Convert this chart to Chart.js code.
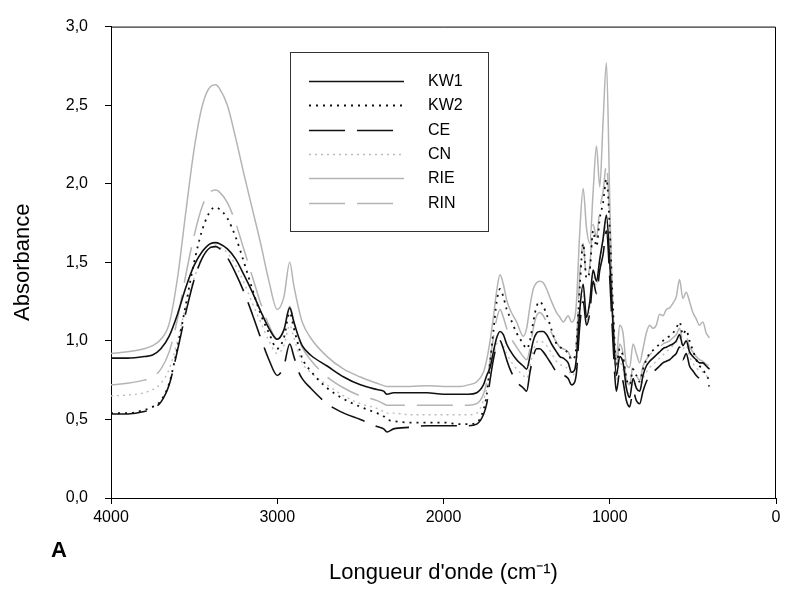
<!DOCTYPE html>
<html>
<head>
<meta charset="utf-8">
<script src="https://cdn.jsdelivr.net/npm/chart.js@4.4.0/dist/chart.umd.min.js"></script>
<style>
  html, body { margin: 0; padding: 0; background: #fff; }
</style>
</head>
<body>
<canvas id="spectra" width="785" height="592"></canvas>
<script>
// wavenumbers (cm-1), shared by all spectra
const wavenumbers = [
    4000, 3900, 3800, 3750, 3700, 3650, 3600, 3550, 3500, 3450, 3400, 3370, 3350, 3300, 3250, 3200, 3150, 3100, 3050, 3000,
    2960, 2925, 2900, 2870, 2850, 2800, 2700, 2600, 2500, 2400, 2360, 2340, 2300, 2200, 2100, 2000, 1900, 1850, 1800,
    1760, 1740, 1720, 1700, 1680, 1660, 1640, 1620, 1600, 1560, 1520, 1500, 1480, 1460, 1440, 1420, 1400, 1380, 1350, 1320, 1300, 1280, 1250, 1230, 1210, 1200,
    1180, 1160, 1140, 1120, 1100, 1080, 1060, 1040, 1020, 1000, 980, 960, 940, 920, 900, 880, 860, 840, 820, 800,
    780, 760, 740, 720, 700, 680, 660, 640, 620, 600, 580, 560, 540, 520, 500, 480, 460, 440, 420, 400
];

const kw1 = [
    0.89, 0.89, 0.90, 0.91, 0.95, 1.03, 1.17, 1.34, 1.48, 1.57, 1.62, 1.625, 1.62, 1.585, 1.52, 1.42, 1.31, 1.19, 1.08, 1.01,
    1.07, 1.21, 1.12, 1.02, 0.97, 0.91, 0.84, 0.77, 0.72, 0.69, 0.68, 0.66, 0.67, 0.67, 0.67, 0.66, 0.66, 0.66, 0.67,
    0.72, 0.78, 0.83, 0.93, 1.02, 1.06, 1.04, 0.98, 0.94, 0.88, 0.84, 0.82, 0.90, 1.00, 1.05, 1.06, 1.06, 1.04, 0.98, 0.93, 0.90, 0.89, 0.86, 0.80, 0.82, 0.90,
    1.20, 1.36, 1.15, 1.25, 1.45, 1.38, 1.52, 1.65, 1.80, 1.50, 1.10, 0.78, 0.90, 0.86, 0.70, 0.64, 0.76, 0.70, 0.68, 0.78,
    0.84, 0.87, 0.89, 0.91, 0.93, 0.95, 0.96, 0.97, 0.98, 1.00, 1.04, 0.97, 1.00, 0.93, 0.90, 0.88, 0.86, 0.86, 0.84, 0.82
];

const kw2 = [
    0.54, 0.54, 0.56, 0.58, 0.62, 0.73, 0.96, 1.23, 1.50, 1.71, 1.83, 1.85, 1.84, 1.78, 1.66, 1.50, 1.33, 1.17, 1.05, 0.95,
    1.02, 1.18, 1.08, 0.96, 0.89, 0.81, 0.70, 0.63, 0.58, 0.54, 0.52, 0.50, 0.49, 0.48, 0.48, 0.48, 0.47, 0.47, 0.48,
    0.56, 0.66, 0.86, 1.06, 1.25, 1.33, 1.28, 1.20, 1.15, 1.05, 0.98, 0.95, 1.00, 1.12, 1.22, 1.25, 1.22, 1.17, 1.07, 0.98, 0.96, 0.95, 0.92, 0.88, 0.90, 0.98,
    1.35, 1.62, 1.40, 1.45, 1.70, 1.60, 1.78, 1.88, 2.03, 1.72, 1.20, 0.85, 0.95, 0.90, 0.76, 0.72, 0.82, 0.78, 0.74, 0.82,
    0.88, 0.92, 0.94, 0.96, 0.98, 1.00, 1.02, 1.03, 1.05, 1.08, 1.12, 1.04, 1.07, 1.00, 0.94, 0.88, 0.84, 0.82, 0.78, 0.75
];

const ce = [
    0.535, 0.535, 0.55, 0.57, 0.61, 0.72, 0.94, 1.18, 1.39, 1.53, 1.595, 1.60, 1.59, 1.53, 1.43, 1.31, 1.17, 1.02, 0.88, 0.78,
    0.84, 0.98, 0.90, 0.80, 0.76, 0.70, 0.60, 0.54, 0.50, 0.455, 0.44, 0.42, 0.44, 0.45, 0.46, 0.46, 0.46, 0.46, 0.47,
    0.53, 0.60, 0.75, 0.88, 0.97, 1.00, 0.95, 0.88, 0.82, 0.74, 0.70, 0.68, 0.80, 0.90, 0.95, 0.95, 0.93, 0.90, 0.85, 0.80, 0.78, 0.78, 0.76, 0.72, 0.74, 0.80,
    1.10, 1.25, 1.10, 1.18, 1.38, 1.30, 1.45, 1.55, 1.70, 1.40, 0.98, 0.68, 0.80, 0.74, 0.62, 0.58, 0.68, 0.62, 0.60, 0.68,
    0.74, 0.78, 0.80, 0.82, 0.84, 0.86, 0.87, 0.88, 0.90, 0.92, 0.96, 0.88, 0.92, 0.84, 0.81, 0.78, 0.76, 0.75, 0.73, 0.71
];

const cn = [
    0.65, 0.655, 0.67, 0.69, 0.73, 0.82, 1.00, 1.22, 1.40, 1.53, 1.60, 1.61, 1.60, 1.56, 1.48, 1.37, 1.24, 1.12, 1.00, 0.92,
    0.97, 1.10, 1.02, 0.92, 0.86, 0.80, 0.72, 0.65, 0.60, 0.57, 0.55, 0.54, 0.54, 0.53, 0.53, 0.53, 0.53, 0.53, 0.54,
    0.62, 0.70, 0.80, 0.90, 0.98, 1.00, 0.97, 0.92, 0.88, 0.82, 0.78, 0.76, 0.84, 0.94, 0.99, 1.00, 0.99, 0.97, 0.92, 0.87, 0.85, 0.84, 0.82, 0.78, 0.80, 0.86,
    1.16, 1.32, 1.12, 1.22, 1.42, 1.35, 1.50, 1.62, 1.76, 1.48, 1.05, 0.75, 0.86, 0.82, 0.70, 0.66, 0.74, 0.70, 0.68, 0.76,
    0.80, 0.83, 0.85, 0.87, 0.89, 0.91, 0.93, 0.95, 0.97, 0.99, 1.02, 0.95, 0.97, 0.90, 0.86, 0.83, 0.81, 0.80, 0.78, 0.76
];

const rie = [
    0.92, 0.93, 0.95, 0.97, 1.01, 1.11, 1.40, 1.82, 2.22, 2.50, 2.62, 2.63, 2.61, 2.50, 2.29, 2.06, 1.84, 1.62, 1.38, 1.20,
    1.28, 1.50, 1.35, 1.20, 1.12, 1.02, 0.90, 0.82, 0.77, 0.73, 0.715, 0.71, 0.71, 0.71, 0.715, 0.71, 0.71, 0.72, 0.74,
    0.80, 0.88, 1.00, 1.15, 1.32, 1.42, 1.36, 1.26, 1.20, 1.12, 1.03, 1.08, 1.22, 1.33, 1.37, 1.38, 1.37, 1.33, 1.25, 1.18, 1.15, 1.12, 1.16, 1.12, 1.15, 1.25,
    1.70, 1.97, 1.72, 1.62, 1.95, 2.24, 1.98, 2.40, 2.77, 1.90, 1.05, 0.90, 1.10, 1.05, 0.85, 0.83, 0.98, 0.92, 0.86, 0.95,
    1.05, 1.10, 1.08, 1.10, 1.17, 1.16, 1.20, 1.21, 1.24, 1.28, 1.39, 1.27, 1.31, 1.25, 1.18, 1.14, 1.10, 1.12, 1.05, 1.02
];

const rin = [
    0.72, 0.73, 0.75, 0.77, 0.82, 0.93, 1.14, 1.42, 1.67, 1.86, 1.95, 1.96, 1.95, 1.88, 1.75, 1.58, 1.41, 1.24, 1.10, 1.01,
    1.07, 1.22, 1.12, 1.02, 0.96, 0.88, 0.77, 0.70, 0.65, 0.62, 0.60, 0.59, 0.59, 0.59, 0.59, 0.59, 0.59, 0.59, 0.60,
    0.66, 0.74, 0.88, 1.02, 1.14, 1.20, 1.15, 1.08, 1.03, 0.96, 0.90, 0.88, 0.95, 1.08, 1.16, 1.18, 1.16, 1.12, 1.05, 0.99, 0.96, 0.95, 0.93, 0.89, 0.92, 1.00,
    1.42, 1.62, 1.40, 1.48, 1.74, 1.66, 1.84, 1.95, 2.12, 1.76, 1.18, 0.84, 0.98, 0.92, 0.76, 0.72, 0.84, 0.78, 0.75, 0.84,
    0.88, 0.91, 0.93, 0.95, 0.96, 0.98, 0.99, 1.00, 1.02, 1.04, 1.08, 1.00, 1.03, 0.96, 0.93, 0.90, 0.88, 0.87, 0.85, 0.84
];

const seriesNames = ['KW1', 'KW2', 'CE', 'CN', 'RIE', 'RIN'];
const yTicks = [0, 0.5, 1.0, 1.5, 2.0, 2.5, 3.0];

const FONT = '"Liberation Sans", Arial, sans-serif';
const GREY = '#b4b4b4';

const toPoints = arr => wavenumbers.map((w, i) => ({ x: w, y: arr[i] }));

const styles = [
    { borderColor: '#111', borderWidth: 1.6, borderDash: [] },
    { borderColor: '#111', borderWidth: 1.8, borderDash: [2, 5] },
    { borderColor: '#111', borderWidth: 1.6, borderDash: [36, 12] },
    { borderColor: '#bcbcbc', borderWidth: 1.4, borderDash: [2, 4] },
    { borderColor: GREY, borderWidth: 1.5, borderDash: [] },
    { borderColor: GREY, borderWidth: 1.5, borderDash: [36, 12] }
];

const datasets = [kw1, kw2, ce, cn, rie, rin].map((arr, i) => Object.assign({
    label: seriesNames[i],
    data: toPoints(arr),
    pointRadius: 0,
    fill: false,
    cubicInterpolationMode: 'monotone'
}, styles[i]));

// framed legend box, like the original figure
const boxLegend = {
    id: 'boxLegend',
    afterDraw(chart) {
        const ctx = chart.ctx;
        ctx.save();
        ctx.fillStyle = '#fff';
        ctx.fillRect(290, 52, 198, 179);
        ctx.strokeStyle = '#333';
        ctx.lineWidth = 1;
        ctx.strokeRect(290.5, 52.5, 198, 179);
        chart.data.datasets.forEach((ds, i) => {
            const y = Math.round(81 + i * 24.3) + 0.5;
            ctx.strokeStyle = ds.borderColor;
            ctx.lineWidth = ds.borderWidth;
            ctx.setLineDash(ds.borderDash);
            ctx.beginPath();
            ctx.moveTo(309, y);
            ctx.lineTo(404, y);
            ctx.stroke();
            ctx.setLineDash([]);
            ctx.fillStyle = '#000';
            ctx.font = '16px ' + FONT;
            ctx.textBaseline = 'middle';
            ctx.fillText(ds.label, 428, y);
        });
        ctx.restore();
    }
};

// top/right frame lines and the panel letter
const frame = {
    id: 'frame',
    afterDatasetsDraw(chart) {
        const { ctx, chartArea: a } = chart;
        ctx.save();
        ctx.strokeStyle = '#000';
        ctx.lineWidth = 1;
        ctx.beginPath();
        ctx.moveTo(a.left, a.top + 0.5);
        ctx.lineTo(a.right - 0.5, a.top + 0.5);
        ctx.lineTo(a.right - 0.5, a.bottom);
        ctx.stroke();
        ctx.fillStyle = '#000';
        ctx.font = 'bold 22px ' + FONT;
        ctx.textBaseline = 'alphabetic';
        ctx.fillText('A', 51, 557);
        ctx.restore();
    }
};

new Chart(document.getElementById('spectra').getContext('2d'), {
    type: 'line',
    data: { datasets: datasets },
    plugins: [frame, boxLegend],
    options: {
        responsive: false,
        animation: false,
        layout: { padding: { top: 21, right: 9, left: 0, bottom: 0 } },
        plugins: {
            legend: { display: false },
            tooltip: { enabled: false }
        },
        scales: {
            x: {
                type: 'linear',
                min: 0,
                max: 4000,
                reverse: true,
                afterFit: s => { s.height = 94; },
                ticks: {
                    stepSize: 1000,
                    padding: 4,
                    color: '#000',
                    font: { family: FONT, size: 16 },
                    callback: v => String(v)
                },
                grid: { drawOnChartArea: false, drawTicks: true, tickLength: 6, color: '#000' },
                border: { color: '#000', width: 1 },
                title: {
                    display: true,
                    text: "Longueur d'onde (cm⁻¹)",
                    color: '#000',
                    font: { family: FONT, size: 22 },
                    padding: { top: 0, bottom: 6 }
                }
            },
            y: {
                min: 0,
                max: 3,
                afterFit: s => { s.width = 111; },
                afterBuildTicks: s => { s.ticks = yTicks.map(v => ({ value: v })); },
                ticks: {
                    padding: 17,
                    color: '#000',
                    font: { family: FONT, size: 16 },
                    callback: v => v.toFixed(1).replace('.', ',')
                },
                grid: { drawOnChartArea: false, drawTicks: true, tickLength: 6, color: '#000' },
                border: { color: '#000', width: 1 },
                title: {
                    display: true,
                    text: 'Absorbance',
                    color: '#000',
                    font: { family: FONT, size: 22 },
                    padding: { top: 10, bottom: 0 }
                }
            }
        }
    }
});
</script>
</body>
</html>
